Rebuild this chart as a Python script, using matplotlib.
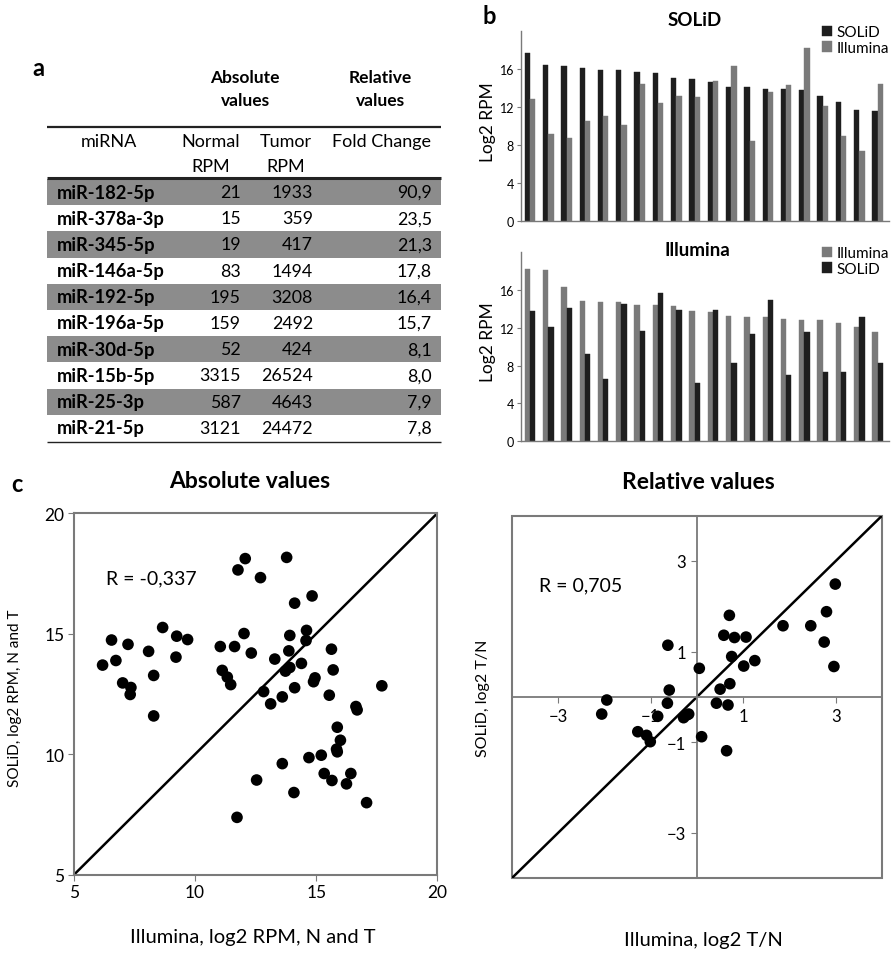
import numpy as np
import matplotlib
matplotlib.use("Agg")
import matplotlib.pyplot as plt
from matplotlib.patches import Rectangle

plt.rcParams['font.family'] = ['Lato', 'DejaVu Sans']

# ---------------- data ----------------
mirna = ["miR-182-5p", "miR-378a-3p", "miR-345-5p", "miR-146a-5p", "miR-192-5p",
         "miR-196a-5p", "miR-30d-5p", "miR-15b-5p", "miR-25-3p", "miR-21-5p"]
normal_rpm = ["21", "15", "19", "83", "195", "159", "52", "3315", "587", "3121"]
tumor_rpm = ["1933", "359", "417", "1494", "3208", "2492", "424", "26524", "4643", "24472"]
fold_change = ["90,9", "23,5", "21,3", "17,8", "16,4", "15,7", "8,1", "8,0", "7,9", "7,8"]

# top 20 miRNAs ranked by SOLiD (log2 RPM)
solid_rank_solid = [17.7, 16.4, 16.25, 16.05, 15.9, 15.85, 15.65, 15.6, 15.0, 14.9,
                    14.6, 14.1, 14.1, 13.9, 13.9, 13.8, 13.1, 12.55, 11.7, 11.6]
solid_rank_illumina = [12.85, 9.15, 8.75, 10.55, 11.1, 10.1, 14.4, 12.45, 13.2, 13.0,
                       14.7, 16.25, 8.4, 13.6, 14.3, 18.15, 12.1, 8.95, 7.35, 14.45]

# top 20 miRNAs ranked by Illumina (log2 RPM)
illu_rank_illumina = [18.2, 18.1, 16.25, 14.85, 14.7, 14.7, 14.4, 14.35, 14.3, 13.7,
                      13.6, 13.25, 13.15, 13.15, 12.95, 12.85, 12.75, 12.45, 12.05, 11.55]
illu_rank_solid = [13.8, 12.05, 14.1, 9.25, 6.55, 14.5, 11.6, 15.6, 13.9, 6.15,
                   13.9, 8.25, 11.3, 14.95, 7.05, 11.5, 7.35, 7.35, 13.1, 8.3]

# absolute values, log2 RPM (normal and tumor)
abs_illumina = [6.18, 6.55, 6.73, 7.01, 7.23, 7.35, 7.32, 8.08, 8.29, 8.29, 8.66, 9.24, 9.21,
                9.69, 11.04, 11.12, 11.33, 11.47, 11.63, 11.77, 12.07, 12.02, 12.32, 11.73,
                12.54, 12.70, 12.83, 13.12, 13.29, 13.78, 13.91, 13.87, 13.73, 13.91, 13.60,
                14.11, 14.11, 13.60, 14.08, 14.39, 14.58, 14.60, 14.83, 14.95, 14.89, 14.70,
                15.21, 15.33, 15.54, 15.63, 15.70, 15.65, 15.87, 15.84, 15.87, 16.00, 16.25,
                16.43, 16.64, 16.69, 17.08, 17.71]
abs_solid = [13.70, 14.74, 13.89, 12.96, 14.56, 12.77, 12.48, 14.27, 13.27, 11.59, 15.26,
             14.90, 14.03, 14.76, 14.47, 13.48, 13.20, 12.89, 14.47, 17.65, 18.12, 15.01,
             14.20, 7.38, 8.93, 17.33, 12.60, 12.09, 13.95, 18.17, 14.93, 14.29, 13.45,
             13.60, 12.38, 16.27, 12.76, 9.61, 8.41, 13.77, 14.72, 15.14, 16.57, 13.17,
             13.01, 9.86, 9.96, 9.20, 12.45, 14.36, 13.50, 8.91, 11.12, 10.21, 10.10,
             10.58, 8.77, 9.20, 11.98, 11.84, 7.99, 12.84]

# relative values, log2 T/N
rel_illumina = [-2.06, -1.95, -1.28, -1.09, -1.01, -0.85, -0.64, -0.60, -0.63, -0.29, -0.22,
                -0.18, 0.05, 0.10, 0.42, 0.50, 0.58, 0.67, 0.64, 0.70, 0.71, 0.75, 0.81,
                1.01, 1.06, 1.25, 1.86, 2.46, 2.75, 2.80, 2.96, 2.99]
rel_solid = [-0.38, -0.07, -0.77, -0.85, -0.99, -0.43, -0.14, 0.15, 1.14, -0.46, -0.40,
             -0.38, 0.63, -0.88, -0.14, 0.17, 1.36, -0.18, -1.19, 1.80, 0.29, 0.89, 1.31,
             0.68, 1.32, 0.80, 1.57, 1.57, 1.21, 1.88, 0.67, 2.49]

r_abs = "R = -0,337"
r_rel = "R = 0,705"

# ---------------- figure ----------------
W, H = 891, 954
fig = plt.figure(figsize=(W / 100, H / 100), dpi=100)

BLACK = '#1e1e1e'
GRAY = '#7a7a7a'
SPINE = '#7a7a7a'


def px_axes(left, top, right, bottom):
    return fig.add_axes([left / W, 1 - bottom / H, (right - left) / W, (bottom - top) / H])


# overlay in pixel coordinates for the table and free text
ov = fig.add_axes([0, 0, 1, 1])
ov.set_xlim(0, W)
ov.set_ylim(H, 0)
ov.axis('off')

# ---------------- panel a: table ----------------
ov.text(38, 68, "a", fontsize=17, fontweight='bold', ha='center', va='center')
for xc, words in ((245, ("Absolute", "values")), (380, ("Relative", "values"))):
    ov.text(xc, 78, words[0], fontsize=12.5, fontweight='bold', ha='center', va='center')
    ov.text(xc, 101, words[1], fontsize=12.5, fontweight='bold', ha='center', va='center')

x0, x1 = 47, 441
ov.plot([x0, x1], [128, 128], color='#222222', lw=1.6, solid_capstyle='butt')
HS = 13
ov.text(109, 142, "miRNA", fontsize=HS, ha='center', va='center')
ov.text(211, 142, "Normal", fontsize=HS, ha='center', va='center')
ov.text(211, 167, "RPM", fontsize=HS, ha='center', va='center')
ov.text(286, 142, "Tumor", fontsize=HS, ha='center', va='center')
ov.text(286, 167, "RPM", fontsize=HS, ha='center', va='center')
ov.text(382, 142, "Fold Change", fontsize=HS, ha='center', va='center')

row_h = 26.2
first = 193
for i, name in enumerate(mirna):
    yc = first + i * row_h
    if i % 2 == 0:
        ov.add_patch(Rectangle((x0, yc - row_h / 2), x1 - x0, row_h,
                               facecolor='#8c8c8c', edgecolor='none'))
    ov.text(57, yc, name, fontsize=13.2, fontweight='bold', ha='left', va='center')
    ov.text(241, yc, normal_rpm[i], fontsize=12.8, ha='right', va='center')
    ov.text(313, yc, tumor_rpm[i], fontsize=12.8, ha='right', va='center')
    ov.text(432, yc, fold_change[i], fontsize=12.8, ha='right', va='center')
ov.plot([x0, x1], [179, 179], color='#222222', lw=2.2, solid_capstyle='butt')
ov.plot([x0, x1], [first + 9.5 * row_h + 1, first + 9.5 * row_h + 1],
        color='#222222', lw=1.0, solid_capstyle='butt')

# ---------------- panel b: bar charts ----------------
ov.text(489, 17, "b", fontsize=17, fontweight='bold', ha='center', va='center')


def bar_panel(ax, first_vals, second_vals, first_col, second_col, labels):
    x = np.arange(len(first_vals))
    w = 0.29
    ax.bar(x - w / 2, first_vals, w, color=first_col, edgecolor=first_col, lw=0.3,
           label=labels[0])
    ax.bar(x + w / 2, second_vals, w, color=second_col, edgecolor=second_col, lw=0.3,
           label=labels[1])
    ax.set_xlim(-0.49, 19.62)
    ax.set_ylim(0, 20)
    ax.set_yticks([0, 4, 8, 12, 16])
    ax.set_xticks([])
    ax.tick_params(axis='y', labelsize=9, length=3, color=SPINE, pad=2)
    for s in ('top', 'right'):
        ax.spines[s].set_visible(False)
    for s in ('left', 'bottom'):
        ax.spines[s].set_color(SPINE)
        ax.spines[s].set_linewidth(1.0)
    ax.patch.set_alpha(0)
    ax.legend(loc='upper right', bbox_to_anchor=(1.0, 1.03), frameon=False, fontsize=11,
              handlelength=0.65, handleheight=0.65, handletextpad=0.3, labelspacing=0.12,
              borderaxespad=0.0, borderpad=0.0)


axb1 = px_axes(521, 31.7, 889, 222.3)
bar_panel(axb1, solid_rank_solid, solid_rank_illumina, BLACK, GRAY, ("SOLiD", "Illumina"))
ov.text(695, 20, "SOLiD", fontsize=13.5, fontweight='bold', ha='center', va='center')
ov.text(488, 122, "Log2 RPM", fontsize=12.5, rotation=90, ha='center', va='center')

axb2 = px_axes(521, 252.8, 889, 442.3)
bar_panel(axb2, illu_rank_illumina, illu_rank_solid, GRAY, BLACK, ("Illumina", "SOLiD"))
ov.text(697, 251, "Illumina", fontsize=13.5, fontweight='bold', ha='center', va='center')
ov.text(488, 342, "Log2 RPM", fontsize=12.5, rotation=90, ha='center', va='center')

# ---------------- panel c: scatter plots ----------------
ov.text(17, 485, "c", fontsize=17, fontweight='bold', ha='center', va='center')

# absolute values
axa = px_axes(74, 514.3, 437.3, 875.7)
axa.scatter(abs_illumina, abs_solid, s=70, color='black', edgecolors='none', zorder=3)
axa.plot([5, 20], [5, 20], color='black', lw=1.8, zorder=2)
axa.set_xlim(5, 20)
axa.set_ylim(5, 20)
axa.set_xticks([5, 10, 15, 20])
axa.set_yticks([5, 10, 15, 20])
axa.tick_params(labelsize=12.5, length=4, color=SPINE, pad=3)
for s in axa.spines.values():
    s.set_color(SPINE)
    s.set_linewidth(1.5)
axa.text(0.088, 0.82, r_abs, transform=axa.transAxes, fontsize=14, ha='left',
         va='center')
ov.text(250, 482, "Absolute values", fontsize=16.5, fontweight='bold', ha='center',
        va='center')
ov.text(253, 938, "Illumina, log2 RPM, N and T", fontsize=14.5, ha='center', va='center')
ov.text(15, 698, "SOLiD, log2 RPM, N and T", fontsize=11, rotation=90, ha='center',
        va='center')

# relative values
axr = px_axes(512, 516.7, 882, 879)
axr.scatter(rel_illumina, rel_solid, s=70, color='black', edgecolors='none', zorder=3)
axr.plot([-4, 4], [-4, 4], color='black', lw=1.8, zorder=2)
axr.set_xlim(-4, 4)
axr.set_ylim(-4, 4)
axr.set_xticks([-3, -1, 1, 3])
axr.set_yticks([-3, -1, 1, 3])
axr.spines['left'].set_position(('data', 0))
axr.spines['bottom'].set_position(('data', 0))
axr.spines['top'].set_visible(False)
axr.spines['right'].set_visible(False)
for s in ('left', 'bottom'):
    axr.spines[s].set_color(SPINE)
    axr.spines[s].set_linewidth(1.3)
axr.tick_params(labelsize=12, length=4, color=SPINE, pad=4)
axr.add_patch(Rectangle((0, 0), 1, 1, transform=axr.transAxes, fill=False,
                        edgecolor=SPINE, lw=1.5, clip_on=False, zorder=1))
axr.text(0.073, 0.81, r_rel, transform=axr.transAxes, fontsize=14, ha='left',
         va='center')
ov.text(698, 483, "Relative values", fontsize=16.5, fontweight='bold', ha='center',
        va='center')
ov.text(703, 941, "Illumina, log2 T/N", fontsize=14.5, ha='center', va='center')
ov.text(483, 698, "SOLiD, log2 T/N", fontsize=11.5, rotation=90, ha='center',
        va='center')

fig.savefig("out.png", dpi=100)
